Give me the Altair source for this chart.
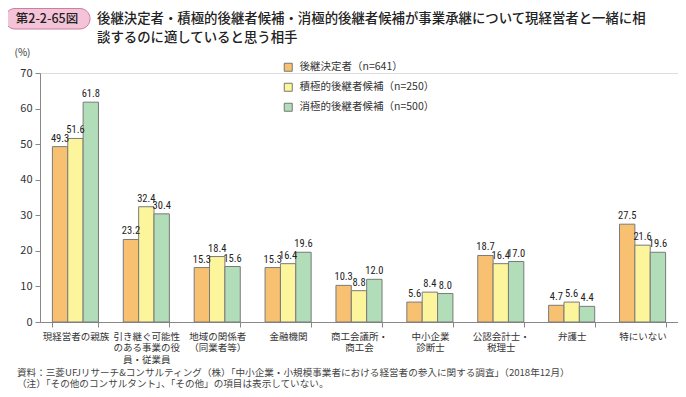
import altair as alt
import pandas as pd

categories = ["現経営者の親族", "引き継ぐ可能性|のある事業の役|員・従業員", "地域の関係者|（同業者等）", "金融機関",
              "商工会議所・|商工会", "中小企業|診断士", "公認会計士・|税理士", "弁護士", "特にいない"]
series = ["後継決定者（n=641）", "積極的後継者候補（n=250）", "消極的後継者候補（n=500）"]
v_decided = [49.3, 23.2, 15.3, 15.3, 10.3, 5.6, 18.7, 4.7, 27.5]
v_active = [51.6, 32.4, 18.4, 16.4, 8.8, 8.4, 16.4, 5.6, 21.6]
v_passive = [61.8, 30.4, 15.6, 19.6, 12.0, 8.0, 17.0, 4.4, 19.6]
colors = ["#F8C172", "#FDF59C", "#B2DDB9"]

title_lines = ["後継決定者・積極的後継者候補・消極的後継者候補が事業承継について現経営者と一緒に相",
               "談するのに適していると思う相手"]
fig_no = "第2-2-65図"
notes = ["資料：三菱UFJリサーチ&コンサルティング（株）「中小企業・小規模事業者における経営者の参入に関する調査」（2018年12月）",
         "（注）「その他のコンサルタント」、「その他」の項目は表示していない。"]

rows = []
for s, vals in zip(series, [v_decided, v_active, v_passive]):
    for c, v in zip(categories, vals):
        rows.append({"cat": c, "series": s, "value": v, "label": f"{v:.1f}"})
df = pd.DataFrame(rows)

FONT = "Noto Sans CJK JP"
NUMFONT = "Roboto Condensed, Liberation Sans Narrow, Roboto"
W, H = 638, 249

x = alt.X("cat:N", sort=categories, title=None,
          scale=alt.Scale(paddingInner=0.35, paddingOuter=0.175),
          axis=alt.Axis(labelExpr="split(datum.label, '|')", labelAngle=0, tickBand="extent",
                        labelFontSize=9.5, labelColor="#333333", labelFont=FONT, labelLineHeight=11.5,
                        domainColor="#888888", tickColor="#888888", tickSize=5, labelPadding=4))
xo = alt.XOffset("series:N", sort=series)
y = alt.Y("value:Q", scale=alt.Scale(domain=[0, 70]),
          axis=alt.Axis(values=list(range(0, 71, 10)), grid=False, title="(%)", titleAngle=0,
                        titleX=-18, titleY=-16, titleFontSize=10, titleFontWeight="normal",
                        titleColor="#333333", titleFont=FONT,
                        labelFontSize=11, labelColor="#333333", labelFont=FONT,
                        domainColor="#888888", tickColor="#888888", tickSize=5, labelPadding=3))

color = alt.Color("series:N", sort=series, scale=alt.Scale(domain=series, range=colors),
                  legend=alt.Legend(title=None, orient="none", legendX=243, legendY=-11,
                                    symbolType="square", symbolSize=64, symbolStrokeColor="#777777",
                                    symbolStrokeWidth=1, labelFontSize=10.5, labelFont=FONT,
                                    labelColor="#333333", rowPadding=7, labelOffset=6))

bars = alt.Chart(df).mark_bar(stroke="#7a7a7a", strokeWidth=1).encode(x=x, xOffset=xo, y=y, color=color)
texts = alt.Chart(df).mark_text(baseline="bottom", dy=-3, fontSize=10.5, font=NUMFONT, fontWeight="normal",
                                color="#222222").encode(x=x, xOffset=xo, y=y, text="label:N")

box = alt.Chart(pd.DataFrame({"a": [0]})).mark_rect(
    fill="#F4C3D7", stroke="#C97FA0", strokeWidth=1, cornerRadius=10).encode(
    x=alt.value(-35), x2=alt.value(50), y=alt.value(-64.5), y2=alt.value(-44))
boxtext = alt.Chart(pd.DataFrame({"t": [fig_no]})).mark_text(
    fontSize=12.5, font=FONT, fontWeight=500, color="#222222", align="center", baseline="middle").encode(
    x=alt.value(7), y=alt.value(-54), text="t:N")
title1 = alt.Chart(pd.DataFrame({"t": [title_lines[0]]})).mark_text(
    fontSize=13.4, font=FONT, fontWeight=500, color="#222222", align="left", baseline="middle").encode(
    x=alt.value(57), y=alt.value(-54), text="t:N")
title2 = alt.Chart(pd.DataFrame({"t": [title_lines[1]]})).mark_text(
    fontSize=13.4, font=FONT, fontWeight=500, color="#222222", align="left", baseline="middle").encode(
    x=alt.value(57), y=alt.value(-35), text="t:N")
note1 = alt.Chart(pd.DataFrame({"t": [notes[0]]})).mark_text(
    fontSize=9.6, font=FONT, color="#444444", align="left", baseline="middle").encode(
    x=alt.value(-23), y=alt.value(299.5), text="t:N")
note2 = alt.Chart(pd.DataFrame({"t": [notes[1]]})).mark_text(
    fontSize=9.6, font=FONT, color="#444444", align="left", baseline="middle").encode(
    x=alt.value(-23), y=alt.value(310.5), text="t:N")

chart = alt.layer(bars, texts, box, boxtext, title1, title2, note1, note2).properties(
    width=W, height=H, autosize=alt.AutoSizeParams(type="none"),
    padding={"left": 32, "top": 65, "right": 0, "bottom": 67}
).configure_view(stroke=None).configure(font=FONT, background="white")

chart.save("out.html", embed_options={"renderer": "svg", "actions": False})
